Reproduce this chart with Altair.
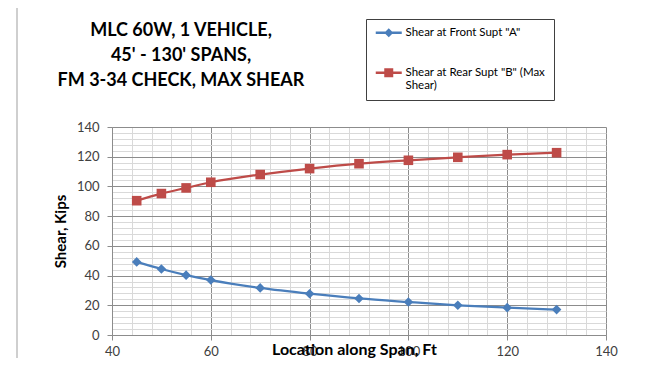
import altair as alt
import pandas as pd

location = [45, 50, 55, 60, 70, 80, 90, 100, 110, 120, 130]
shear_front = [49.2, 44.4, 40.3, 37.0, 31.7, 27.8, 24.6, 22.2, 20.0, 18.4, 17.1]
shear_rear = [90.4, 95.2, 99.0, 102.8, 108.0, 112.0, 115.3, 117.6, 119.6, 121.4, 122.7]
series_names = ['Shear at Front Supt "A"', 'Shear at Rear Supt "B" (Max Shear)']
series_colors = ["#4A7EBB", "#BE4B48"]
marker_shapes = ["diamond", "square"]
title_lines = ["MLC 60W, 1 VEHICLE,", "45' - 130' SPANS,", "FM 3-34 CHECK, MAX SHEAR"]
x_ticks = list(range(40, 141, 4))
y_ticks = list(range(0, 141, 4))

rows = []
for name, shape, vals in zip(series_names, marker_shapes, [shear_front, shear_rear]):
    for x, v in zip(location, vals):
        rows.append({"Location": x, "Shear": v, "Series": name, "Marker": shape})
df = pd.DataFrame(rows)

FONT = "Lato"
MAJOR = "datum.value % 20 === 0"
GRID_MAJOR = "#8c8c8c"
GRID_MINOR = "#d9d9d9"

x_axis = alt.Axis(
    values=x_ticks, grid=True,
    gridColor=alt.condition(MAJOR, alt.value(GRID_MAJOR), alt.value(GRID_MINOR)),
    gridWidth=1,
    tickOpacity=alt.condition(MAJOR, alt.value(1), alt.value(0)),
    tickColor=GRID_MAJOR, tickSize=5,
    labelExpr="datum.value % 20 === 0 ? datum.label : ''",
    labelOverlap=False, labelFlush=False, labelFont=FONT, labelFontSize=13,
    labelColor="#404040", labelPadding=5,
    domainColor=GRID_MAJOR,
    title="Location along Span, Ft", titleFont=FONT, titleFontSize=16, titleFontWeight="bold",
    titleColor="#000000", titleX=242, titleY=19, titleBaseline="alphabetic", titleAlign="center",
)
y_axis = alt.Axis(
    values=y_ticks, grid=True,
    gridColor=alt.condition(MAJOR, alt.value(GRID_MAJOR), alt.value(GRID_MINOR)),
    gridWidth=1,
    tickOpacity=alt.condition(MAJOR, alt.value(1), alt.value(0)),
    tickColor=GRID_MAJOR, tickSize=5,
    labelExpr="datum.value % 20 === 0 ? datum.label : ''",
    labelOverlap=False, labelFlush=False, labelFont=FONT, labelFontSize=13,
    labelColor="#404040", labelPadding=8,
    domainColor=GRID_MAJOR,
    title="Shear, Kips", titleFont=FONT, titleFontSize=15, titleFontWeight="bold",
    titleColor="#000000", titleX=-52, titleY=104, titleBaseline="middle", titleAlign="center",
    titleAngle=270,
)

x_enc = alt.X("Location:Q", scale=alt.Scale(domain=[40, 140], nice=False), axis=x_axis)
y_enc = alt.Y("Shear:Q", scale=alt.Scale(domain=[0, 140], nice=False), axis=y_axis)
color_plain = alt.Color("Series:N", scale=alt.Scale(domain=series_names, range=series_colors), legend=None)

base = alt.Chart(df)
lines = base.mark_line(strokeWidth=2.25, interpolate="monotone").encode(
    x=x_enc, y=y_enc, color=color_plain, detail="Series:N"
)
points = base.mark_point(filled=True, opacity=1, size=92).encode(
    x=x_enc, y=y_enc, color=color_plain, shape=alt.Shape("Marker:N", scale=None)
)

legend_paths = [
    "M-1,-0.3125L5.5,-0.3125L5.5,0.3125L-1,0.3125Z M2.25,-1.125L3.375,0L2.25,1.125L1.125,0Z",
    "M-1,-0.3125L5.5,-0.3125L5.5,0.3125L-1,0.3125Z M1.125,-1.125L3.375,-1.125L3.375,1.125L1.125,1.125Z",
]
leg = alt.Legend(
    orient="none", legendX=254, legendY=-108, title=None,
    strokeColor="#404040", fillColor="#ffffff", padding=8,
    symbolSize=64, symbolStrokeWidth=0, symbolOpacity=1,
    labelFont=FONT, labelFontSize=11.5, labelColor="#000000", labelOffset=20,
    labelLimit=300, rowPadding=27,
    labelExpr="split(replace(datum.label, '(Max Shear)', '(Max|Shear)'), '|')",
)
legend_layer = base.transform_filter("false").mark_point(filled=True, opacity=1).encode(
    color=alt.Color("Series:N", scale=alt.Scale(domain=series_names, range=series_colors), legend=leg),
    shape=alt.Shape("Series:N", scale=alt.Scale(domain=series_names, range=legend_paths), legend=leg),
)

one_df = pd.DataFrame({"k": [0]})
border_v = alt.Chart(one_df).mark_rule(color="#bfbfbf", strokeWidth=1.5).encode(
    x=alt.value(-95), y=alt.value(-122), y2=alt.value(260)
)
border_h = alt.Chart(one_df).mark_rule(color="#bfbfbf", strokeWidth=1.5).encode(
    x=alt.value(-95), x2=alt.value(560), y=alt.value(-122)
)
title_text = alt.Chart(one_df).mark_text(
    font=FONT, fontSize=18, fontWeight="bold", color="#000000",
    align="center", baseline="top", lineHeight=25,
).encode(x=alt.value(69), y=alt.value(-105), text=alt.value(title_lines))

chart = alt.layer(border_v, border_h, title_text, lines, points, legend_layer).resolve_scale(
    color="independent", shape="independent"
).properties(
    width=494, height=208,
    autosize=alt.AutoSizeParams(type="none"),
    padding={"left": 104, "top": 119, "right": 38, "bottom": 23},
    background="white",
).configure_view(stroke=None)

chart.save("out.html", embed_options={"renderer": "svg", "actions": False})
